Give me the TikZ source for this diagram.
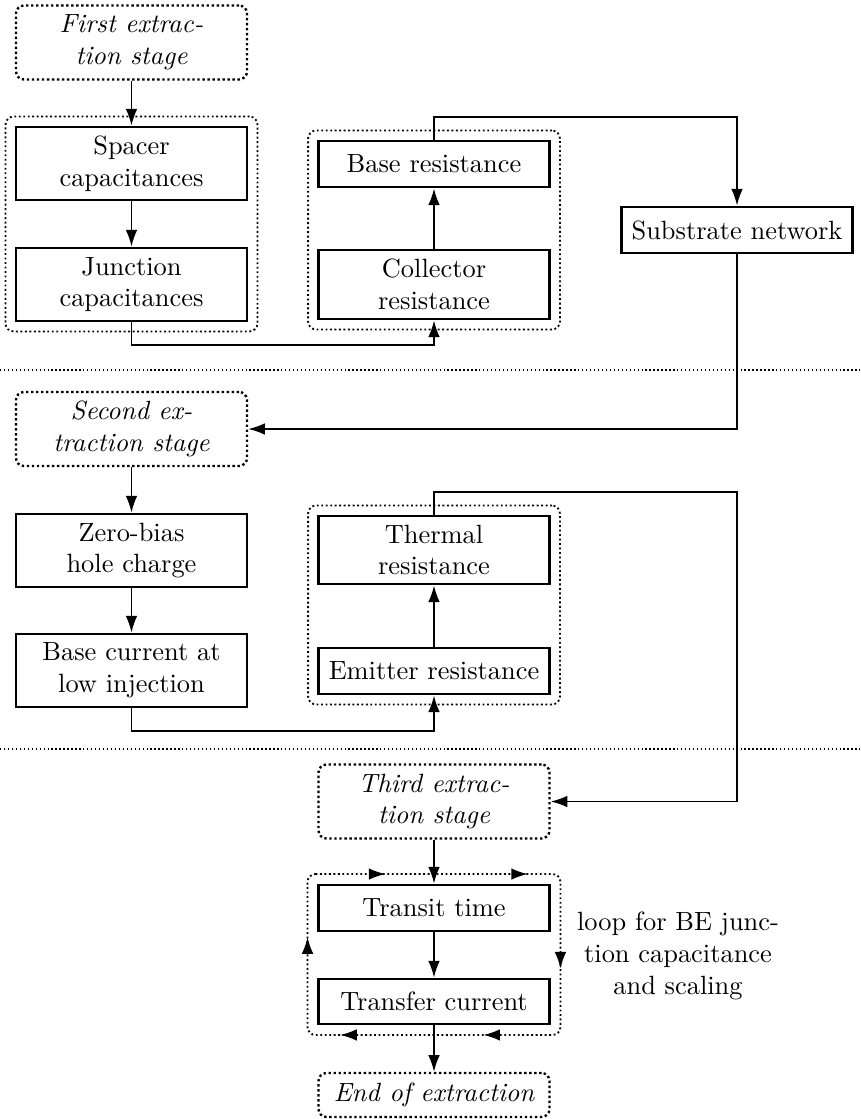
\documentclass[tikz,border=0pt]{standalone}
\usetikzlibrary{arrows.meta,fit,decorations.markings}
\newdimen\pxu \pxu=0.3788pt
\tikzset{
  tipstyle/.tip={Latex[length=6.3pt,width=4.4pt]},
  box/.style={draw, line width=1.1pt, minimum width=231\pxu, inner sep=0pt, align=center},
  stage/.style={draw, line width=0.9pt, densely dotted, rounded corners=3pt, minimum width=231\pxu, minimum height=74\pxu, inner sep=0pt, align=center, font=\itshape},
  grp/.style={draw, line width=0.7pt, densely dotted, rounded corners=3pt, inner sep=3.4pt},
  conn/.style={line width=0.65pt, -{tipstyle}},
  sepline/.style={line width=0.5pt, densely dotted},
  looptip/.style={line width=0.7pt, densely dotted, rounded corners=3pt,
    decoration={markings,
      mark=at position 0.086 with {\arrow{tipstyle}},
      mark=at position 0.261 with {\arrow{tipstyle}},
      mark=at position 0.413 with {\arrow{tipstyle}},
      mark=at position 0.585 with {\arrow{tipstyle}},
      mark=at position 0.761 with {\arrow{tipstyle}},
      mark=at position 0.917 with {\arrow{tipstyle}}},
    postaction={decorate}}
}
\begin{document}
\begin{tikzpicture}[x=0.3788pt,y=-0.3788pt]
\useasboundingbox (0,0) rectangle (860,1119);
% separators
\draw[sepline] (0,370) -- (860,370);
\draw[sepline] (0,749) -- (860,749);
% first stage
\node[stage] (first) at (131.5,42.5) {First extrac-\\tion stage};
\node[box, minimum height=73\pxu] (spacer) at (131.5,163.5) {Spacer\\capacitances};
\node[box, minimum height=73\pxu] (junc) at (131.5,284.5) {Junction\\capacitances};
\node[box, minimum height=46\pxu] (base) at (434,164) {Base resistance};
\node[box, minimum height=69\pxu] (coll) at (434,284.5) {Collector\\resistance};
\node[box, minimum height=46\pxu] (sub) at (737,230) {Substrate network};
\node[grp, fit=(spacer)(junc)] (g1) {};
\node[grp, fit=(base)(coll)] (g2) {};
% second stage
\node[stage] (second) at (131.5,429) {Second ex-\\traction stage};
\node[box, minimum height=73\pxu] (zero) at (131.5,550.5) {Zero-bias\\hole charge};
\node[box, minimum height=73\pxu] (bcur) at (131.5,670.5) {Base current at\\low injection};
\node[box, minimum height=68\pxu] (therm) at (434,550) {Thermal\\resistance};
\node[box, minimum height=46\pxu] (emit) at (434,671) {Emitter resistance};
\node[grp, fit=(therm)(emit)] (g3) {};
% third stage
\node[stage] (third) at (434,801.5) {Third extrac-\\tion stage};
\node[box, minimum height=46\pxu] (transit) at (434,908) {Transit time};
\node[box, minimum height=45\pxu] (transfer) at (434,1001.5) {Transfer current};
\node[stage, minimum height=44\pxu] (end) at (434,1095) {End of extraction};
\node[inner sep=0pt, align=center] (looptext) at (678,956) {loop for BE junc-\\tion capacitance\\and scaling};
\node[inner sep=3.4pt, fit=(transit)(transfer)] (g4) {};
\draw[looptip] (g4.north west) -- (g4.north east) -- (g4.south east) -- (g4.south west) -- cycle;
% coordinates
\coordinate (c1) at (737,117);
\coordinate (j1) at (131.5,345);
\coordinate (c3) at (737,492);
\coordinate (j2) at (131.5,731);
% connectors
\draw[conn] (first) -- (spacer);
\draw[conn] (spacer) -- (junc);
\draw[conn] (junc.south) -- (j1) -| (coll.south);
\draw[conn] (coll) -- (base);
\draw[conn] (base.north) |- (c1) -- (sub.north);
\draw[conn] (sub.south) |- (second.east);
\draw[conn] (second) -- (zero);
\draw[conn] (zero) -- (bcur);
\draw[conn] (bcur.south) -- (j2) -| (emit.south);
\draw[conn] (emit) -- (therm);
\draw[conn] (therm.north) |- (c3) |- (third.east);
\draw[conn] (third) -- (transit);
\draw[conn] (transit) -- (transfer);
\draw[conn] (transfer) -- (end);
\end{tikzpicture}
\end{document}
